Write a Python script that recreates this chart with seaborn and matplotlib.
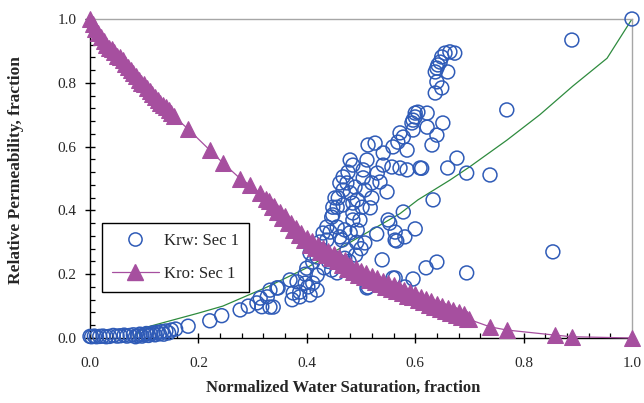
import numpy as np
import pandas as pd
import matplotlib
matplotlib.use("Agg")
import matplotlib.pyplot as plt
from matplotlib.lines import Line2D
from matplotlib.ticker import MultipleLocator
import seaborn as sns

# ---------------- data ----------------
krw_x = [0.0, 0.003, 0.008, 0.012, 0.018, 0.024, 0.03, 0.036, 0.043, 0.05, 0.056, 0.063,
         0.068, 0.074, 0.08, 0.084, 0.088, 0.092, 0.096, 0.1, 0.104, 0.108, 0.112, 0.116,
         0.12, 0.124, 0.128, 0.132, 0.136, 0.14, 0.145, 0.15, 0.158,
         0.181, 0.221, 0.243, 0.277, 0.292, 0.308, 0.314, 0.317, 0.327, 0.332, 0.338, 0.345,
         0.332, 0.347,
         0.369, 0.373, 0.375, 0.382, 0.387, 0.387, 0.397, 0.397, 0.400, 0.402, 0.406, 0.406,
         0.411, 0.411, 0.415, 0.419, 0.419, 0.419, 0.424, 0.428, 0.43, 0.437, 0.437, 0.443,
         0.446, 0.446, 0.448, 0.448, 0.452, 0.456, 0.456, 0.456, 0.458, 0.461, 0.461, 0.465,
         0.467, 0.467, 0.467, 0.470, 0.474, 0.474, 0.476, 0.48, 0.48, 0.48, 0.485, 0.485,
         0.485, 0.485, 0.489, 0.493, 0.493, 0.498, 0.502, 0.504, 0.504, 0.507, 0.507, 0.511,
         0.511, 0.513, 0.513, 0.517, 0.52, 0.52, 0.526, 0.529, 0.53, 0.535, 0.539, 0.541,
         0.541, 0.548, 0.55, 0.553, 0.557, 0.559, 0.559, 0.563, 0.563, 0.563, 0.566, 0.568,
         0.572, 0.572, 0.578, 0.578, 0.581, 0.581, 0.585, 0.585, 0.594, 0.596, 0.596, 0.596,
         0.6, 0.6, 0.6, 0.605, 0.609, 0.612, 0.62, 0.622, 0.622, 0.631, 0.633, 0.637, 0.637,
         0.64, 0.64, 0.64, 0.64, 0.642, 0.646, 0.649, 0.649, 0.651, 0.655, 0.66, 0.66, 0.664,
         0.673, 0.677, 0.695, 0.695, 0.738, 0.769, 0.854, 0.889, 1.0,
         0.47, 0.478, 0.49, 0.475, 0.5, 0.492, 0.463, 0.452, 0.44, 0.432]
krw_y = [0.005, 0.004, 0.006, 0.004, 0.005, 0.006, 0.004, 0.005, 0.008, 0.006, 0.007, 0.009,
         0.006, 0.008, 0.01, 0.004, 0.007, 0.012, 0.006, 0.01, 0.014, 0.008, 0.012, 0.016,
         0.01, 0.018, 0.013, 0.02, 0.012, 0.022, 0.016, 0.025, 0.028,
         0.037, 0.054, 0.07, 0.088, 0.10, 0.11, 0.125, 0.098, 0.129, 0.15, 0.097, 0.157,
         0.097, 0.157,
         0.182, 0.12, 0.141, 0.176, 0.129, 0.144, 0.172, 0.2, 0.219, 0.16, 0.135, 0.266,
         0.238, 0.172, 0.276, 0.15, 0.197, 0.254, 0.301, 0.276, 0.329, 0.307, 0.348, 0.332,
         0.379, 0.213, 0.386, 0.41, 0.439, 0.41, 0.348, 0.204, 0.439, 0.486, 0.317, 0.307,
         0.505, 0.417, 0.464, 0.339, 0.486, 0.276, 0.52, 0.558, 0.455, 0.33, 0.542, 0.423,
         0.392, 0.37, 0.473, 0.433, 0.338, 0.37, 0.41, 0.527, 0.502, 0.464, 0.298, 0.558,
         0.157, 0.605, 0.16, 0.408, 0.486, 0.439, 0.611, 0.326, 0.517, 0.489, 0.245, 0.58,
         0.542, 0.458, 0.37, 0.36, 0.536, 0.599, 0.188, 0.307, 0.332, 0.188, 0.304, 0.614,
         0.643, 0.533, 0.63, 0.395, 0.317, 0.16, 0.589, 0.527, 0.674, 0.652, 0.683, 0.185,
         0.693, 0.705, 0.342, 0.708, 0.533, 0.532, 0.22, 0.705, 0.661, 0.605, 0.433, 0.768, 0.834,
         0.636, 0.846, 0.803, 0.238, 0.856, 0.865, 0.881, 0.784, 0.674, 0.893, 0.834, 0.533, 0.897,
         0.893, 0.564, 0.517, 0.204, 0.511, 0.715, 0.27, 0.934, 1.0,
         0.25, 0.24, 0.26, 0.22, 0.28, 0.30, 0.23, 0.25, 0.24, 0.22]

kro_x = [0.0, 0.005, 0.01, 0.015, 0.02, 0.025, 0.03, 0.035, 0.04, 0.045, 0.05, 0.055,
         0.06, 0.065, 0.07, 0.075, 0.08, 0.085, 0.09, 0.095, 0.10, 0.105, 0.11, 0.115,
         0.12, 0.125, 0.13, 0.135, 0.14, 0.145, 0.15, 0.155,
         0.181, 0.221, 0.245, 0.277, 0.295, 0.314, 0.325,
         0.33, 0.335, 0.34, 0.345, 0.35, 0.355, 0.36, 0.365, 0.37, 0.375, 0.38, 0.385,
         0.39, 0.395, 0.40, 0.405, 0.41, 0.415, 0.42, 0.425, 0.43, 0.435, 0.44, 0.445,
         0.45, 0.455, 0.46, 0.465, 0.47, 0.475, 0.48, 0.485, 0.49, 0.495, 0.50, 0.505,
         0.51, 0.515, 0.52, 0.525, 0.53, 0.535, 0.54, 0.545, 0.55, 0.555, 0.56, 0.565,
         0.57, 0.575, 0.58, 0.585, 0.59, 0.595, 0.60, 0.605, 0.61, 0.615, 0.62, 0.625,
         0.63, 0.635, 0.64, 0.645, 0.65, 0.655, 0.66, 0.665, 0.67, 0.675, 0.68, 0.685,
         0.69, 0.695, 0.70, 0.738, 0.769, 0.858, 0.889, 1.0]
kro_y = [1.0, 0.985, 0.97, 0.955, 0.945, 0.93, 0.92, 0.91, 0.905, 0.895, 0.885, 0.88,
         0.87, 0.86, 0.85, 0.84, 0.83, 0.82, 0.81, 0.80, 0.795, 0.785, 0.775, 0.765,
         0.755, 0.745, 0.738, 0.73, 0.724, 0.715, 0.705, 0.695,
         0.655, 0.589, 0.549, 0.50, 0.48, 0.454, 0.437,
         0.43, 0.412, 0.415, 0.395, 0.395, 0.375, 0.381, 0.359, 0.361, 0.34, 0.345, 0.323,
         0.328, 0.307, 0.315, 0.293, 0.303, 0.281, 0.293, 0.271, 0.283, 0.26, 0.273, 0.25,
         0.263, 0.24, 0.253, 0.229, 0.243, 0.217, 0.229, 0.207, 0.219, 0.197, 0.21, 0.19,
         0.203, 0.183, 0.195, 0.175, 0.188, 0.168, 0.18, 0.161, 0.173, 0.154, 0.165, 0.147,
         0.158, 0.14, 0.15, 0.133, 0.143, 0.127, 0.137, 0.12, 0.13, 0.112, 0.123, 0.105,
         0.115, 0.098, 0.108, 0.091, 0.1, 0.084, 0.093, 0.078, 0.087, 0.071, 0.081, 0.065,
         0.074, 0.059, 0.058, 0.035, 0.025, 0.009, 0.004, 0.0]

model_x = [0.08, 0.098, 0.15, 0.2, 0.245, 0.327, 0.40, 0.48, 0.572, 0.605, 0.664, 0.70,
           0.769, 0.83, 0.891, 0.954, 1.0]
model_y = [0.0, 0.031, 0.055, 0.078, 0.10, 0.16, 0.22, 0.30, 0.39, 0.433, 0.495, 0.536,
           0.62, 0.70, 0.79, 0.877, 1.0]

xticks = [0.0, 0.2, 0.4, 0.6, 0.8, 1.0]
yticks = [0.0, 0.2, 0.4, 0.6, 0.8, 1.0]
x_label = "Normalized Water Saturation, fraction"
y_label = "Relative Permeability, fraction"
legend_labels = ["Krw: Sec 1", "Kro: Sec 1"]

# ---------------- style ----------------
sns.set_style("white")
plt.rcParams["font.family"] = ["Liberation Serif", "DejaVu Serif"]

blue = "#2F5BB7"
purple = "#A64F9F"
green = "#2E8B3E"

fig = plt.figure(figsize=(6.44, 4.03), dpi=100)
ax = fig.add_axes([90 / 644, 1 - 338 / 403, 542 / 644, 319 / 403])

krw_df = pd.DataFrame({"x": krw_x, "y": krw_y})
kro_df = pd.DataFrame({"x": kro_x, "y": kro_y})
mod_df = pd.DataFrame({"x": model_x, "y": model_y})

sns.lineplot(data=mod_df, x="x", y="y", ax=ax, color=green, lw=0.9,
             sort=False, estimator=None, zorder=2)
sns.scatterplot(data=krw_df, x="x", y="y", ax=ax, s=100, marker="o",
                facecolor="none", edgecolor=blue, linewidth=1.1, clip_on=False, zorder=3)
sns.lineplot(data=kro_df, x="x", y="y", ax=ax, color=purple, lw=0.9,
             sort=False, estimator=None, marker="^", markersize=11,
             markeredgecolor=purple, markerfacecolor=purple, clip_on=False, zorder=4)

ax.set_xlim(0, 1.0)
ax.set_ylim(0, 1.0)
ax.set_xticks(xticks)
ax.set_yticks(yticks)
ax.set_xticklabels([f"{t:.1f}" for t in xticks])
ax.set_yticklabels([f"{t:.1f}" for t in yticks])
ax.xaxis.set_minor_locator(MultipleLocator(0.04))
ax.yaxis.set_minor_locator(MultipleLocator(0.04))
ax.tick_params(axis="both", which="major", direction="inout", length=7, width=1.0,
               labelsize=11, color="black", pad=6)
ax.tick_params(axis="both", which="minor", direction="in", length=3.5, width=0.9,
               color="black")
ax.tick_params(axis="x", which="major", pad=10)
ax.tick_params(axis="both", which="both", bottom=True, left=True, top=False, right=False)

for side in ["left", "bottom"]:
    ax.spines[side].set_color("black")
    ax.spines[side].set_linewidth(1.0)
for side in ["top", "right"]:
    ax.spines[side].set_color("#A6A6A6")
    ax.spines[side].set_linewidth(1.0)

ax.set_xlabel(x_label, fontsize=12, fontweight="bold")
ax.set_ylabel(y_label, fontsize=12.5, fontweight="bold")
ax.xaxis.set_label_coords(0.467, -0.13)
ax.yaxis.set_label_coords(-0.121, 0.527)

handles = [
    Line2D([], [], linestyle="none", marker="o", markersize=9.5, markerfacecolor="none",
           markeredgecolor=blue, markeredgewidth=1.1),
    Line2D([], [], color=purple, lw=0.9, marker="^", markersize=11,
           markerfacecolor=purple, markeredgecolor=purple),
]
leg = ax.legend(handles, legend_labels, loc="lower left",
                bbox_to_anchor=(0.022, 0.145), fontsize=12, frameon=True,
                fancybox=False, edgecolor="black", framealpha=1,
                handlelength=2.8, handletextpad=0.3, borderpad=0.6,
                labelspacing=1.0, borderaxespad=0)
leg.get_frame().set_linewidth(1.0)

fig.savefig("out.png", dpi=100)
